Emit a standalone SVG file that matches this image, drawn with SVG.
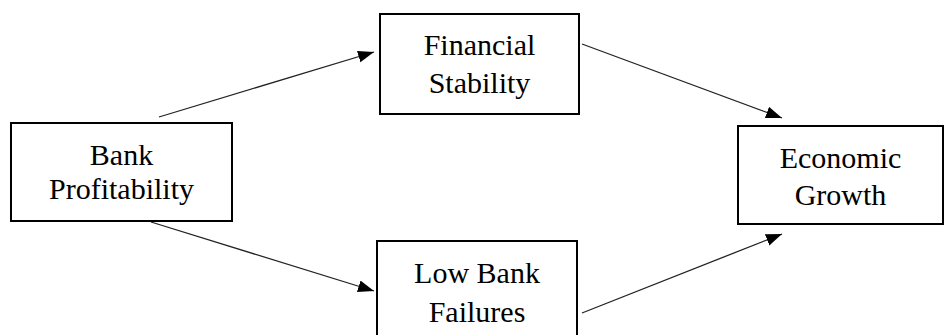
<svg xmlns="http://www.w3.org/2000/svg" width="945" height="335" viewBox="0 0 945 335">
<style>
.box{fill:#fff;stroke:#000;stroke-width:2}
.lbl{font-family:"Liberation Serif","DejaVu Serif",serif;font-size:30px;fill:#000;text-anchor:middle}
.edge{stroke:#222;stroke-width:1.3;fill:none;marker-end:url(#arr)}
</style>
<defs>
<marker id="arr" markerUnits="userSpaceOnUse" markerWidth="17" markerHeight="14" refX="16" refY="6" orient="auto">
<path d="M0,0 L16,6 L0,12 z" fill="#000"/>
</marker>
</defs>
<rect width="945" height="335" fill="#fff"/>
<g id="edges">
<line class="edge" x1="159" y1="117" x2="374" y2="52"/>
<line class="edge" x1="582" y1="44" x2="782" y2="118"/>
<line class="edge" x1="151" y1="222" x2="374" y2="291"/>
<line class="edge" x1="582" y1="313" x2="782" y2="234"/>
</g>
<g id="bank">
<rect class="box" x="11" y="123" width="221" height="98"/>
<text class="lbl" x="121.5" y="165">Bank</text>
<text class="lbl" x="121.5" y="199">Profitability</text>
</g>
<g id="financial">
<rect class="box" x="380" y="14" width="199" height="100"/>
<text class="lbl" x="479.5" y="55">Financial</text>
<text class="lbl" x="479.5" y="93">Stability</text>
</g>
<g id="failures">
<rect class="box" x="377" y="241" width="200" height="100"/>
<text class="lbl" x="477" y="283">Low Bank</text>
<text class="lbl" x="477" y="322">Failures</text>
</g>
<g id="growth">
<rect class="box" x="738" y="126" width="205" height="98"/>
<text class="lbl" x="840.5" y="168">Economic</text>
<text class="lbl" x="840.5" y="205">Growth</text>
</g>
</svg>
